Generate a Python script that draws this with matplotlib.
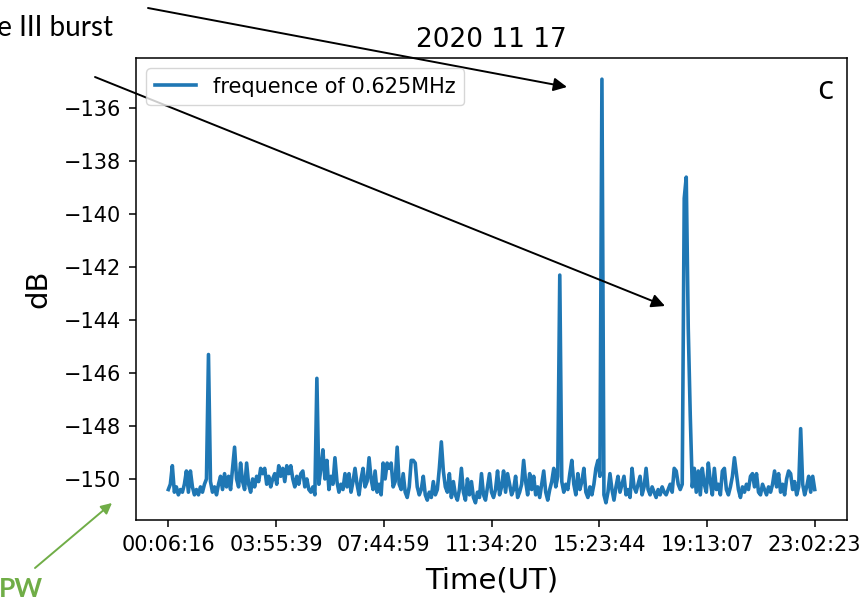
import numpy as np
import matplotlib
matplotlib.use("Agg")
import matplotlib.pyplot as plt

# time axis (UT) of the 0.625 MHz channel, 2020-11-17
t_first = "00:06:16"
t_last = "23:02:23"
tick_labels = ["00:06:16", "03:55:39", "07:44:59", "11:34:20",
               "15:23:44", "19:13:07", "23:02:23"]

db_values = [
    -150.4, -150.2, -149.5, -150.5, -150.3, -150.6, -150.4, -150.5, -150.2, -149.7,
    -150.5, -149.7, -150.3, -150.6, -150.4, -150.6, -150.3, -150.5, -150.2, -150.0,
    -145.3, -150.1, -150.5, -150.3, -150.6, -150.2, -149.9, -150.4, -149.8, -150.3,
    -149.9, -150.4, -149.6, -148.8, -150.0, -150.3, -149.4, -150.1, -150.4, -149.4,
    -150.2, -150.5, -150.0, -150.3, -149.9, -150.1, -149.6, -149.8, -149.6, -150.2,
    -149.9, -150.3, -150.0, -149.8, -150.2, -149.5, -149.9, -149.6, -150.1, -149.5,
    -149.8, -149.5, -150.0, -150.3, -149.9, -150.2, -149.8, -149.7, -150.3, -150.0,
    -150.4, -150.5, -150.3, -150.6, -146.2, -150.2, -149.6, -148.9, -150.0, -149.3,
    -150.4, -149.9, -150.2, -149.2, -150.1, -150.5, -150.2, -150.4, -149.8, -150.3,
    -149.8, -150.5, -150.1, -149.6, -150.2, -150.6, -150.0, -149.6, -150.3, -150.1,
    -149.2, -150.0, -150.4, -149.7, -150.5, -150.2, -150.6, -149.4, -150.0, -149.4,
    -149.6, -149.4, -150.3, -150.1, -148.8, -150.2, -150.4, -149.8, -150.5, -150.7,
    -150.3, -149.3, -149.3, -149.4, -150.3, -150.6, -150.4, -149.9, -150.6, -150.8,
    -150.5, -150.7, -150.1, -150.6, -150.4, -149.6, -148.6, -149.7, -150.3, -150.5,
    -149.8, -150.7, -150.1, -150.6, -150.8, -150.4, -149.6, -150.5, -150.8, -150.0,
    -150.6, -150.1, -150.7, -150.9, -150.5, -150.7, -149.8, -150.6, -150.8, -150.3,
    -149.8, -150.5, -150.7, -150.4, -149.7, -150.6, -150.3, -149.7, -150.5, -149.8,
    -150.2, -150.6, -150.4, -149.9, -150.7, -150.5, -150.2, -149.3, -150.1, -150.6,
    -149.8, -150.4, -149.9, -150.6, -150.3, -150.7, -150.2, -149.7, -150.5, -150.8,
    -150.4, -150.1, -149.6, -150.3, -149.9, -142.3, -150.1, -150.5, -150.2, -150.4,
    -149.8, -149.3, -150.2, -150.6, -149.8, -150.4, -150.1, -149.6, -150.5, -150.7,
    -150.3, -150.6, -150.2, -149.6, -149.3, -149.9, -134.9, -150.6, -150.9, -150.5,
    -149.8, -150.4, -150.8, -150.3, -149.9, -150.5, -150.2, -149.9, -150.6, -150.4,
    -150.7, -149.6, -150.3, -150.5, -150.2, -149.9, -150.6, -150.3, -149.6, -150.4,
    -150.6, -150.3, -150.5, -150.7, -150.4, -150.6, -150.3, -150.5, -150.6, -150.4,
    -150.2, -150.5, -149.6, -149.7, -150.2, -150.4, -150.2, -139.4, -138.6, -144.3,
    -147.6, -150.3, -149.6, -150.5, -149.7, -150.6, -149.6, -150.2, -150.5, -149.4,
    -150.1, -150.6, -149.6, -150.4, -150.2, -150.6, -149.7, -149.6, -150.4, -150.6,
    -150.3, -149.9, -149.2, -149.8, -150.4, -150.7, -150.3, -150.5, -150.2, -150.4,
    -149.9, -149.8, -150.3, -149.8, -150.5, -150.6, -150.2, -150.4, -150.6, -150.3,
    -150.5, -150.2, -149.7, -150.3, -149.8, -150.5, -150.2, -150.6, -150.0, -149.7,
    -149.8, -150.4, -150.1, -150.6, -150.3, -148.1, -150.2, -150.6, -150.3, -149.9,
    -150.5, -149.9, -150.4,
]


def to_seconds(hms):
    h, m, s = (int(v) for v in hms.split(":"))
    return h * 3600 + m * 60 + s


t_sec = np.linspace(to_seconds(t_first), to_seconds(t_last), len(db_values))
tick_pos = [to_seconds(lbl) for lbl in tick_labels]

fig = plt.figure(figsize=(8.63, 6.01), dpi=100)
ax = fig.add_axes([0.1576, 0.1348, 0.8239, 0.7687])

ax.plot(t_sec, db_values, color="#1f77b4", lw=2.6, label="frequence of 0.625MHz")

ax.set_xticks(tick_pos)
ax.set_xticklabels(tick_labels)
ax.set_ylim(-151.55, -134.1)
ax.set_yticks(np.arange(-150, -135, 2))
ax.tick_params(labelsize=15, length=5, width=1.1, pad=6)
for sp in ax.spines.values():
    sp.set_linewidth(1.1)

ax.set_xlabel("Time(UT)", fontsize=21, labelpad=8)
ax.set_ylabel("dB", fontsize=21, labelpad=8)
ax.set_title("2020 11 17", fontsize=19, pad=8)
ax.legend(loc="upper left", fontsize=15, borderaxespad=0.5)
ax.text(0.969, 0.93, "c", transform=ax.transAxes, fontsize=24,
        family="Open Sans", ha="center", va="center")

# annotations pasted on top of the figure (partly cut by the figure edge)
fig.text(113 / 863, 1 - 36 / 601, "Type III burst", ha="right", va="baseline",
         fontsize=20, family="Lato")
arrow = dict(arrowstyle="-|>", color="black", lw=1.4, mutation_scale=20,
             shrinkA=0, shrinkB=0)
ax.annotate("", xy=(567, 601 - 87), xytext=(148, 601 - 8),
            xycoords="figure pixels", textcoords="figure pixels",
            arrowprops=arrow, annotation_clip=False)
ax.annotate("", xy=(665, 601 - 306), xytext=(95, 601 - 77),
            xycoords="figure pixels", textcoords="figure pixels",
            arrowprops=arrow, annotation_clip=False)

green = "#70ad47"
ax.annotate("", xy=(112, 601 - 503), xytext=(35, 601 - 568),
            xycoords="figure pixels", textcoords="figure pixels",
            arrowprops=dict(arrowstyle="-|>", color=green, lw=1.4,
                            mutation_scale=16, shrinkA=0, shrinkB=0),
            annotation_clip=False)
fig.text(-1 / 863, 1 - 597 / 601, "PW", ha="left", va="baseline",
         fontsize=19, family="Lato", weight="bold", color=green)

fig.savefig("out.png", dpi=100)
